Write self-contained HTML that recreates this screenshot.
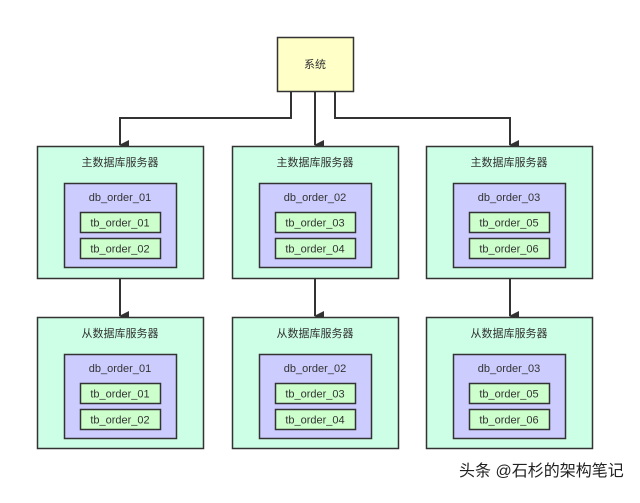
<!DOCTYPE html>
<html><head><meta charset="utf-8"><style>
body{margin:0;width:640px;height:498px;background:#fff;overflow:hidden;font-family:"Liberation Sans","Noto Sans CJK SC",sans-serif}
</style></head><body>
<svg width="640" height="498" xmlns="http://www.w3.org/2000/svg" font-family="Liberation Sans, Noto Sans CJK SC, sans-serif">
<defs><marker id="a" markerWidth="10" markerHeight="10" refX="5" refY="9" orient="auto" markerUnits="userSpaceOnUse"><path d="M0,0 L10,0 L5,10 Z" fill="#333"/></marker></defs>
<rect x="277.5" y="37.5" width="76" height="54" fill="#ffffc8" stroke="#333" stroke-width="1.5"/>
<text x="315" y="68" font-size="11" text-anchor="middle" fill="#333">系统</text>
<g stroke="#333" stroke-width="2" fill="none">
<path d="M291,92 V118 H120 V145" marker-end="url(#a)"/>
<path d="M315,92 V145" marker-end="url(#a)"/>
<path d="M335,92 V118 H510 V145" marker-end="url(#a)"/>
<path d="M120,279 V316" marker-end="url(#a)"/>
<path d="M315,279 V316" marker-end="url(#a)"/>
<path d="M510,279 V316" marker-end="url(#a)"/>
</g>
<g id="c1">
<rect x="37.5" y="146.5" width="166" height="132" fill="#ccffe6" stroke="#333" stroke-width="1.5"/>
<text x="120" y="166" font-size="11" text-anchor="middle" fill="#333">主数据库服务器</text>
<rect x="64.5" y="183.5" width="112" height="84" fill="#ccccff" stroke="#333" stroke-width="1.5"/>
<text x="120" y="201" font-size="11" text-anchor="middle" fill="#333">db_order_01</text>
<rect x="80.5" y="212.5" width="80" height="20" fill="#ccffcc" stroke="#333" stroke-width="1.5"/>
<text x="120" y="226.5" font-size="11" text-anchor="middle" fill="#333">tb_order_01</text>
<rect x="80.5" y="238.5" width="80" height="20" fill="#ccffcc" stroke="#333" stroke-width="1.5"/>
<text x="120" y="252.5" font-size="11" text-anchor="middle" fill="#333">tb_order_02</text>
</g>
<g transform="translate(195,0)">
<rect x="37.5" y="146.5" width="166" height="132" fill="#ccffe6" stroke="#333" stroke-width="1.5"/>
<text x="120" y="166" font-size="11" text-anchor="middle" fill="#333">主数据库服务器</text>
<rect x="64.5" y="183.5" width="112" height="84" fill="#ccccff" stroke="#333" stroke-width="1.5"/>
<text x="120" y="201" font-size="11" text-anchor="middle" fill="#333">db_order_02</text>
<rect x="80.5" y="212.5" width="80" height="20" fill="#ccffcc" stroke="#333" stroke-width="1.5"/>
<text x="120" y="226.5" font-size="11" text-anchor="middle" fill="#333">tb_order_03</text>
<rect x="80.5" y="238.5" width="80" height="20" fill="#ccffcc" stroke="#333" stroke-width="1.5"/>
<text x="120" y="252.5" font-size="11" text-anchor="middle" fill="#333">tb_order_04</text>
</g>
<g transform="translate(389,0)">
<rect x="37.5" y="146.5" width="166" height="132" fill="#ccffe6" stroke="#333" stroke-width="1.5"/>
<text x="120" y="166" font-size="11" text-anchor="middle" fill="#333">主数据库服务器</text>
<rect x="64.5" y="183.5" width="112" height="84" fill="#ccccff" stroke="#333" stroke-width="1.5"/>
<text x="120" y="201" font-size="11" text-anchor="middle" fill="#333">db_order_03</text>
<rect x="80.5" y="212.5" width="80" height="20" fill="#ccffcc" stroke="#333" stroke-width="1.5"/>
<text x="120" y="226.5" font-size="11" text-anchor="middle" fill="#333">tb_order_05</text>
<rect x="80.5" y="238.5" width="80" height="20" fill="#ccffcc" stroke="#333" stroke-width="1.5"/>
<text x="120" y="252.5" font-size="11" text-anchor="middle" fill="#333">tb_order_06</text>
</g>
<g transform="translate(0,171)">
<rect x="37.5" y="146.5" width="166" height="131" fill="#ccffe6" stroke="#333" stroke-width="1.5"/>
<text x="120" y="166" font-size="11" text-anchor="middle" fill="#333">从数据库服务器</text>
<rect x="64.5" y="183.5" width="112" height="84" fill="#ccccff" stroke="#333" stroke-width="1.5"/>
<text x="120" y="201" font-size="11" text-anchor="middle" fill="#333">db_order_01</text>
<rect x="80.5" y="212.5" width="80" height="20" fill="#ccffcc" stroke="#333" stroke-width="1.5"/>
<text x="120" y="226.5" font-size="11" text-anchor="middle" fill="#333">tb_order_01</text>
<rect x="80.5" y="238.5" width="80" height="20" fill="#ccffcc" stroke="#333" stroke-width="1.5"/>
<text x="120" y="252.5" font-size="11" text-anchor="middle" fill="#333">tb_order_02</text>
</g>
<g transform="translate(195,171)">
<rect x="37.5" y="146.5" width="166" height="131" fill="#ccffe6" stroke="#333" stroke-width="1.5"/>
<text x="120" y="166" font-size="11" text-anchor="middle" fill="#333">从数据库服务器</text>
<rect x="64.5" y="183.5" width="112" height="84" fill="#ccccff" stroke="#333" stroke-width="1.5"/>
<text x="120" y="201" font-size="11" text-anchor="middle" fill="#333">db_order_02</text>
<rect x="80.5" y="212.5" width="80" height="20" fill="#ccffcc" stroke="#333" stroke-width="1.5"/>
<text x="120" y="226.5" font-size="11" text-anchor="middle" fill="#333">tb_order_03</text>
<rect x="80.5" y="238.5" width="80" height="20" fill="#ccffcc" stroke="#333" stroke-width="1.5"/>
<text x="120" y="252.5" font-size="11" text-anchor="middle" fill="#333">tb_order_04</text>
</g>
<g transform="translate(389,171)">
<rect x="37.5" y="146.5" width="166" height="131" fill="#ccffe6" stroke="#333" stroke-width="1.5"/>
<text x="120" y="166" font-size="11" text-anchor="middle" fill="#333">从数据库服务器</text>
<rect x="64.5" y="183.5" width="112" height="84" fill="#ccccff" stroke="#333" stroke-width="1.5"/>
<text x="120" y="201" font-size="11" text-anchor="middle" fill="#333">db_order_03</text>
<rect x="80.5" y="212.5" width="80" height="20" fill="#ccffcc" stroke="#333" stroke-width="1.5"/>
<text x="120" y="226.5" font-size="11" text-anchor="middle" fill="#333">tb_order_05</text>
<rect x="80.5" y="238.5" width="80" height="20" fill="#ccffcc" stroke="#333" stroke-width="1.5"/>
<text x="120" y="252.5" font-size="11" text-anchor="middle" fill="#333">tb_order_06</text>
</g>
<text x="459" y="476" font-size="16" fill="#222">头条 @石杉的架构笔记</text>
</svg>
</body></html>
